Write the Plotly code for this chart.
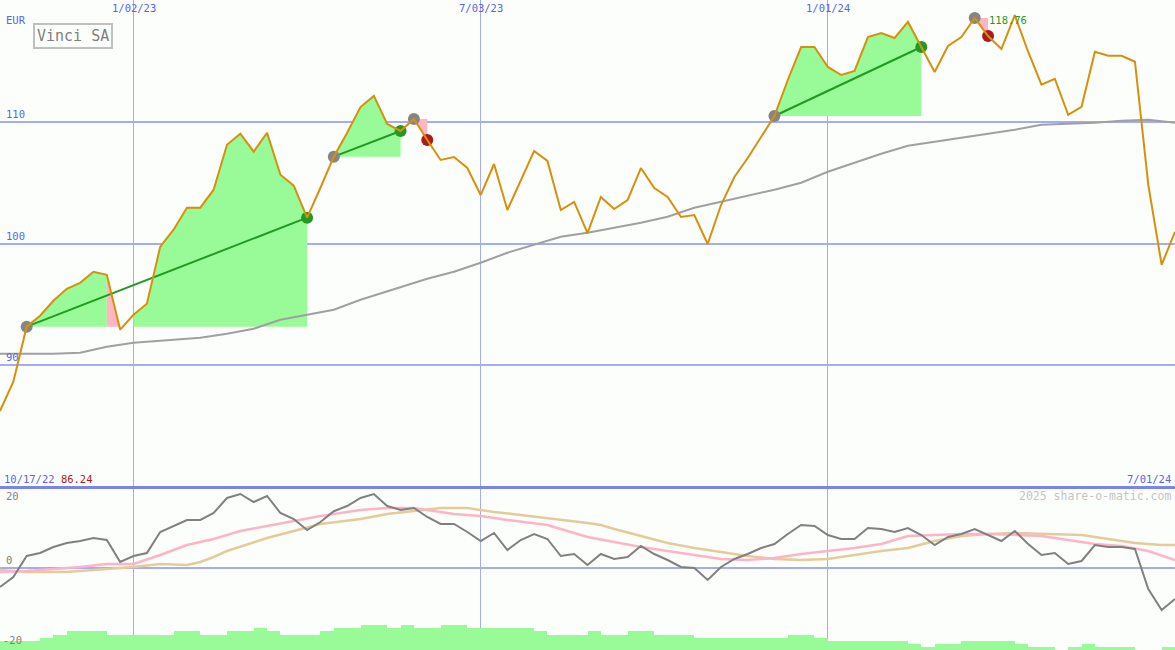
import pandas as pd
import plotly.graph_objects as go

# ---- data (weekly closes) ----
START = "2022-10-24"
price = [86.24, 88.65, 93.17, 94.07, 95.3, 96.28, 96.77, 97.68, 97.43, 92.92,
         94.15, 95.05, 99.74, 101.13, 102.94, 102.94, 104.42, 108.11, 109.02, 107.54,
         109.1, 105.65, 104.75, 102.12, 104.58, 107.13, 109.1, 111.21, 112.12, 109.82,
         109.24, 110.23, 108.5, 106.86, 107.1, 106.2, 103.98, 106.53, 102.75, 105.21,
         107.6, 106.78, 102.75, 103.41, 100.86, 103.82, 102.83, 103.57, 106.2, 104.56,
         103.82, 102.18, 102.34, 99.96, 103.16, 105.46, 107.02, 108.75, 110.47, 113.43,
         116.14, 116.14, 114.5, 113.84, 114.17, 116.96, 117.29, 116.88, 118.2, 116.14,
         114.09, 116.22, 116.96, 118.52, 117.04, 115.97, 118.76, 115.75, 113.04, 113.53,
         110.57, 111.23, 115.75, 115.42, 115.42, 114.93, 104.82, 98.25, 100.96]

# long moving average (grey, main panel)
ma_idx = [0, 4, 6, 8, 10, 12, 15, 17, 19, 21, 23, 25, 27, 30, 32, 34, 36, 38, 40, 42,
          44, 46, 48, 50, 52, 54, 56, 58, 60, 62, 64, 66, 68, 70, 72, 74, 76, 78, 80,
          82, 84, 86, 88]
ma_val = [90.94, 90.94, 91.03, 91.52, 91.85, 92.01, 92.26, 92.59, 93.0, 93.74, 94.15,
          94.56, 95.38, 96.45, 97.1, 97.68, 98.42, 99.24, 99.9, 100.55, 100.88, 101.29,
          101.7, 102.2, 102.94, 103.43, 103.92, 104.42, 104.99, 105.89, 106.63, 107.37,
          108.03, 108.36, 108.69, 109.01, 109.34, 109.75, 109.84, 109.92, 110.08, 110.16,
          109.92]

# trades: entry / exit week index
entry_idx = [2, 25, 31, 58, 73]
exit_idx = [23, 30, 32, 69, 74]

# lower panel oscillator
osc = [-4.75, -2.25, 3, 3.75, 5.25, 6.25, 6.75, 7.5, 7, 1.5,
       3, 3.75, 9, 10.5, 12, 12, 13.75, 17.5, 18.5, 16.5,
       18, 13.75, 12.25, 9.5, 11.5, 14.2, 15.5, 17.5, 18.5, 15.5,
       14.5, 15, 12.75, 11, 11, 9, 6.75, 8.75, 4.5, 7,
       8.5, 7.25, 3, 3.5, 0.75, 3.5, 2.25, 2.75, 5.5, 3.5,
       2, 0.25, 0, -3, 0.25, 2.25, 3.5, 5, 6, 8.5,
       10.75, 10.5, 8.25, 7.25, 7.25, 10, 9.75, 9, 10, 8.25,
       5.75, 7.75, 8.5, 9.75, 8.25, 6.75, 9.25, 6, 3.25, 3.75,
       1, 1.75, 5.75, 5.25, 5.25, 4.75, -5.25, -10.5, -7.75]

pink_idx = [0, 2, 4, 6, 8, 10, 12, 14, 16, 18, 20, 22, 24, 27, 29, 31, 34, 36, 38, 41,
            42, 44, 46, 48, 50, 52, 54, 56, 58, 60, 62, 64, 66, 68, 70, 72, 74, 76, 78,
            80, 82, 84, 86, 88]
pink_val = [-1, -0.75, -0.25, 0.25, 1, 1, 3.25, 5.75, 7.25, 9.25, 10.5, 11.75, 13, 14.5,
            15, 15, 13.5, 13, 12, 10.75, 9.75, 7.75, 6.5, 5.25, 4.25, 3.25, 2.25, 2, 2.5,
            3.5, 4.25, 5, 6, 8, 8.25, 8.5, 8.5, 8.25, 8, 7, 6, 5.5, 4.25, 2]

tan_idx = [0, 2, 5, 6, 8, 10, 12, 14, 15, 16, 17, 19, 20, 22, 24, 27, 29, 31, 33, 35,
           37, 39, 41, 44, 45, 46, 48, 50, 52, 54, 56, 58, 60, 62, 64, 66, 68, 70, 72,
           74, 76, 78, 81, 83, 85, 87, 88]
tan_val = [-0.5, -1, -1, -0.75, -0.25, 0.25, 1, 0.75, 1.5, 2.75, 4.25, 6.5, 7.5, 9.25,
           11, 12.25, 13.5, 14.25, 15, 15, 14, 13.25, 12.5, 11.25, 10.75, 9.75, 8, 6.25,
           5, 4, 3, 2.25, 2, 2.25, 3.25, 4.25, 5, 6.75, 8, 8.5, 8.75, 8.5, 8.25, 7.25,
           6.25, 5.75, 5.75]

# weekly histogram at the bottom (one bar per week interval)
vol = [2.25, 2.25, 2.25, 3, 3.75, 4.75, 4.75, 4.75, 3.75, 3.75,
       3.75, 3.75, 3.75, 4.75, 4.75, 3.75, 3.75, 4.75, 4.75, 5.5,
       4.75, 3.75, 3.75, 3.75, 4.75, 5.5, 5.5, 6.25, 6.25, 5.5,
       6.25, 5.5, 5.5, 6.25, 6.25, 5.5, 5.5, 5.5, 5.5, 5.5,
       4.75, 3.75, 3.75, 3.75, 4.75, 3.75, 3.75, 4.75, 4.75, 3.75,
       3.75, 3.75, 3, 3, 3, 3, 3, 3, 3, 3.75,
       3.75, 3, 2.25, 2.25, 2.25, 2.25, 2.25, 2.25, 1.5, 0.75,
       1.5, 1.5, 2.25, 2.25, 2.25, 2.25, 1.5, 0.75, 0.75, 0,
       0.75, 1.5, 0.75, 0.75, 0.75, 0, 0, 0.75]

grid_dates = ["2023-01-02", "2023-07-03", "2024-01-01"]
grid_labels = ["1/02/23", "7/03/23", "1/01/24"]
start_label = "10/17/22"
end_label = "7/01/24"

# ---- styles ----
BG = "#fcfefc"
GRID = "#a4acf2"
SEP = "#7a85ea"
AXTXT = "#5565f0"
ORANGE = "#d8900c"
FILL_G = "#98fb98"
FILL_P = "#ffb6c1"
TRADE = "#229a22"
MONO = "DejaVu Sans Mono"

weeks = pd.date_range(START, periods=len(price), freq="7D")
step = weeks[1] - weeks[0]

fig = go.Figure()

# ---- trade fills ----
polys = {FILL_G: ([], []), FILL_P: ([], [])}
for e, x in zip(entry_idx, exit_idx):
    base = price[e]
    for k in range(e, x):
        if price[k] < base:
            continue
        col = FILL_P if price[k + 1] < base else FILL_G
        xs, ys = polys[col]
        xs += [weeks[k], weeks[k], weeks[k + 1], weeks[k + 1], weeks[k], None]
        ys += [base, price[k], price[k + 1], base, base, None]
for col, (xs, ys) in polys.items():
    fig.add_trace(go.Scatter(x=xs, y=ys, mode="lines", fill="toself", fillcolor=col,
                             line=dict(width=0), hoverinfo="skip", showlegend=False))

# long moving average
fig.add_trace(go.Scatter(x=weeks[ma_idx], y=ma_val, mode="lines",
                         line=dict(color="#a0a0a0", width=2), showlegend=False))

# winning trade lines
for e, x in zip(entry_idx, exit_idx):
    if price[x] > price[e]:
        fig.add_trace(go.Scatter(x=[weeks[e], weeks[x]], y=[price[e], price[x]],
                                 mode="lines", line=dict(color=TRADE, width=2),
                                 showlegend=False))

# entry / exit dots
fig.add_trace(go.Scatter(x=weeks[entry_idx], y=[price[i] for i in entry_idx],
                         mode="markers", marker=dict(color="#858585", size=12),
                         showlegend=False))
exit_cols = [TRADE if price[x] > price[e] else "#a81c1c"
             for e, x in zip(entry_idx, exit_idx)]
fig.add_trace(go.Scatter(x=weeks[exit_idx], y=[price[i] for i in exit_idx],
                         mode="markers", marker=dict(color=exit_cols, size=12),
                         showlegend=False))

# price line
fig.add_trace(go.Scatter(x=weeks, y=price, mode="lines",
                         line=dict(color=ORANGE, width=2), showlegend=False))

# ---- lower panel ----
fig.add_trace(go.Bar(x=weeks[:-1] + step / 2, y=vol, base=-20.5,
                     width=step.total_seconds() * 1000, marker=dict(color=FILL_G, line=dict(width=0)),
                     xaxis="x2", yaxis="y2", showlegend=False))
fig.add_trace(go.Scatter(x=weeks[tan_idx], y=tan_val, mode="lines",
                         line=dict(color="#e4cc9a", width=2.5),
                         xaxis="x2", yaxis="y2", showlegend=False))
fig.add_trace(go.Scatter(x=weeks[pink_idx], y=pink_val, mode="lines",
                         line=dict(color="#ffb4c6", width=2.5),
                         xaxis="x2", yaxis="y2", showlegend=False))
fig.add_trace(go.Scatter(x=weeks, y=osc, mode="lines",
                         line=dict(color="#808080", width=2),
                         xaxis="x2", yaxis="y2", showlegend=False))

# ---- labels ----
def label(text, x, y, xref="paper", yref="paper", xa="left", ya="middle",
          color=AXTXT, size=10.5, **kw):
    fig.add_annotation(text=text, x=x, y=y, xref=xref, yref=yref, xanchor=xa,
                       yanchor=ya, showarrow=False,
                       font=dict(family=MONO, size=size, color=color), **kw)

for v in (90, 100, 110):
    label(str(v), 0.003, v, yref="y", ya="bottom")
label("EUR", 0.003, 1 - 20 / 650)
for d, t in zip(grid_dates, grid_labels):
    label(t, d, 1, xref="x", xa="center", ya="top")
label(f'{start_label} <span style="color:#a81c1c">{min(price):.2f}</span>',
      0.002, 1 - 479 / 650)
label(end_label, 0.998, 1 - 479 / 650, xa="right")
label(f"{max(price):.2f}", weeks[price.index(max(price))], max(price), xref="x",
      yref="y", xa="center", ya="middle", color=TRADE, xshift=-7, yshift=-5)
label("Vinci SA", 0.062, 1 - 36 / 650, xa="center", color="#808080", size=15,
      bordercolor="#c0c0c0", borderwidth=2, borderpad=2, bgcolor=BG)
label("2025 share-o-matic.com", 0.998, 1 - 496 / 650, xa="right",
      color="#c4c4c4", size=11.5)
label("20", 0.003, 20, yref="y2", ya="top", color="#808080")
label("0", 0.003, 0, yref="y2", ya="bottom", color="#808080")
label("-20", 0.001, -20, yref="y2", ya="bottom", color="#808080")

# separator between panels
fig.add_shape(type="line", xref="paper", yref="paper", x0=0, x1=1,
              y0=0.25, y1=0.25, line=dict(color=SEP, width=3))

xcommon = dict(type="date", range=[weeks[0], weeks[-1]], tickvals=grid_dates,
               showticklabels=False, showgrid=True, gridcolor=GRID, gridwidth=1,
               zeroline=False, showline=False, ticks="")
fig.update_layout(
    width=1175, height=650,
    margin=dict(l=0, r=0, t=0, b=0),
    paper_bgcolor=BG, plot_bgcolor=BG,
    xaxis=dict(domain=[0, 1], anchor="y", **xcommon),
    xaxis2=dict(domain=[0, 1], anchor="y2", matches="x", **xcommon),
    yaxis=dict(domain=[163 / 650, 1], range=[80, 120], tickvals=[90, 100, 110],
               showticklabels=False, showgrid=True, gridcolor=GRID, gridwidth=2,
               zeroline=False, ticks=""),
    yaxis2=dict(domain=[0, 162 / 650], range=[-20.5, 20], tickvals=[0],
                showticklabels=False, showgrid=True, gridcolor=GRID, gridwidth=2,
                zeroline=False, ticks=""),
    bargap=0,
    hovermode=False,
)

fig.write_html("out.html", config={"displayModeBar": False},
               post_script="document.body.style.margin='0';"
                           "document.body.style.overflow='hidden';")
